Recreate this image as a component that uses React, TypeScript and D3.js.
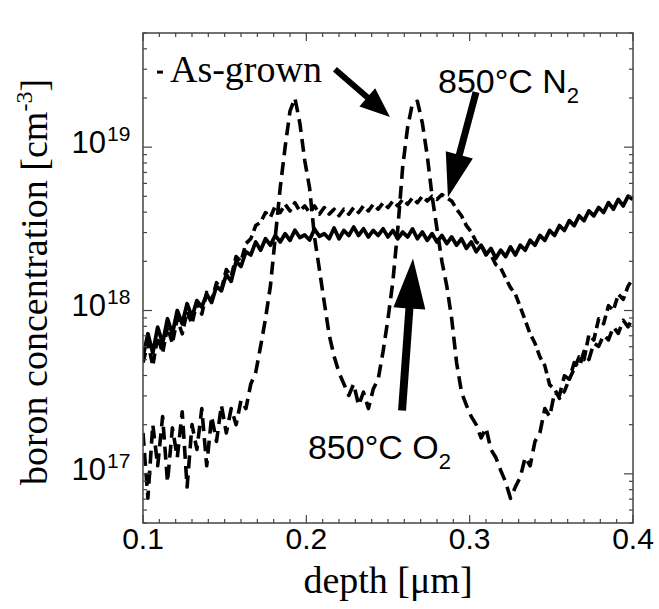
import React from "react";
import * as d3 from "d3";

// depth [µm]
const depth = [
  0.100, 0.103, 0.106, 0.109, 0.112, 0.115, 0.118, 0.121, 0.124, 0.127,
  0.130, 0.133, 0.136, 0.139, 0.142, 0.145, 0.148, 0.151, 0.154, 0.157,
  0.160, 0.163, 0.166, 0.169, 0.172, 0.175, 0.178, 0.181, 0.184, 0.187,
  0.190, 0.193, 0.196, 0.199, 0.202, 0.205, 0.208, 0.211, 0.214, 0.217,
  0.220, 0.223, 0.226, 0.229, 0.232, 0.235, 0.238, 0.241, 0.244, 0.247,
  0.250, 0.253, 0.256, 0.259, 0.262, 0.265, 0.268, 0.271, 0.274, 0.277,
  0.280, 0.283, 0.286, 0.289, 0.292, 0.295, 0.298, 0.301, 0.304, 0.307,
  0.310, 0.313, 0.316, 0.319, 0.322, 0.325, 0.328, 0.331, 0.334, 0.337,
  0.340, 0.343, 0.346, 0.349, 0.352, 0.355, 0.358, 0.361, 0.364, 0.367,
  0.370, 0.373, 0.376, 0.379, 0.382, 0.385, 0.388, 0.391, 0.394, 0.397,
  0.400,
];

// boron concentration [cm^-3]
const asGrown = [
  1.78e17, 7.1e16, 2.0e17, 1.12e17, 2.24e17, 8.9e16, 1.91e17, 1.26e17, 2.4e17, 8.3e16,
  2.0e17, 1.41e17, 2.51e17, 1.12e17, 2.24e17, 1.58e17, 2.63e17, 1.78e17, 2.51e17, 2.0e17,
  2.82e17, 2.51e17, 3.55e17, 4.17e17, 6.03e17, 8.91e17, 1.41e18, 2.82e18, 5.62e18, 1.0e19,
  1.66e19, 2.0e19, 1.41e19, 8.32e18, 5.62e18, 2.82e18, 1.78e18, 1.12e18, 7.08e17, 5.25e17,
  4.17e17, 3.55e17, 3.02e17, 3.55e17, 2.63e17, 3.16e17, 2.51e17, 3.31e17, 3.8e17, 5.62e17,
  8.91e17, 1.51e18, 3.16e18, 7.59e18, 1.32e19, 1.86e19, 1.91e19, 1.41e19, 8.91e18, 5.01e18,
  3.16e18, 2.0e18, 1.41e18, 8.91e17, 4.79e17, 3.16e17, 2.63e17, 2.24e17, 2.0e17, 1.66e17,
  1.91e17, 1.41e17, 1.26e17, 1.05e17, 8.91e16, 7.08e16, 8.32e16, 9.55e16, 1.26e17, 1.12e17,
  1.58e17, 1.78e17, 2.51e17, 2.24e17, 3.16e17, 3.02e17, 3.98e17, 3.8e17, 4.79e17, 4.47e17,
  5.62e17, 5.01e17, 6.31e17, 6.03e17, 7.08e17, 6.61e17, 7.94e17, 7.24e17, 8.71e17, 7.94e17,
  9.12e17,
];

const annealN2 = [
  4.8e17, 6.3e17, 4.6e17, 6.9e17, 5.5e17, 7.9e17, 6.3e17, 8.9e17, 7.2e17, 9.8e17,
  8.3e17, 1.12e18, 9.5e17, 1.29e18, 1.15e18, 1.48e18, 1.35e18, 1.78e18, 1.62e18, 2.14e18,
  2.0e18, 2.57e18, 2.75e18, 3.31e18, 3.47e18, 3.98e18, 3.72e18, 4.37e18, 3.98e18, 4.47e18,
  4.07e18, 4.57e18, 4.07e18, 4.37e18, 3.98e18, 4.37e18, 3.89e18, 4.27e18, 3.89e18, 4.17e18,
  3.8e18, 4.17e18, 3.89e18, 4.27e18, 3.98e18, 4.37e18, 4.07e18, 4.47e18, 4.17e18, 4.57e18,
  4.27e18, 4.68e18, 4.37e18, 4.79e18, 4.47e18, 4.9e18, 4.57e18, 5.01e18, 4.68e18, 5.01e18,
  4.79e18, 5.13e18, 4.9e18, 4.68e18, 4.17e18, 3.8e18, 3.31e18, 3.02e18, 2.63e18, 2.51e18,
  2.24e18, 2.19e18, 1.91e18, 1.82e18, 1.58e18, 1.38e18, 1.26e18, 1.05e18, 8.7e17, 7.2e17,
  6.3e17, 5.2e17, 4.6e17, 3.5e17, 3.3e17, 2.9e17, 3.2e17, 3.8e17, 4.4e17, 5.2e17,
  5.0e17, 7.1e17, 6.6e17, 8.9e17, 8.3e17, 1.07e18, 1.0e18, 1.26e18, 1.17e18, 1.41e18,
  1.58e18,
];

const annealO2 = [
  5.2e17, 7.2e17, 5.5e17, 7.9e17, 6.3e17, 8.9e17, 7.2e17, 1.0e18, 8.3e17, 1.1e18,
  9.1e17, 1.15e18, 1.05e18, 1.26e18, 1.12e18, 1.41e18, 1.32e18, 1.66e18, 1.51e18, 2.0e18,
  1.86e18, 2.29e18, 2.19e18, 2.63e18, 2.34e18, 2.75e18, 2.51e18, 2.88e18, 2.63e18, 2.95e18,
  2.69e18, 3.1e18, 2.8e18, 2.9e18, 2.7e18, 3.15e18, 2.85e18, 2.95e18, 2.75e18, 3.2e18,
  2.75e18, 3.09e18, 2.88e18, 3.24e18, 2.88e18, 3.16e18, 2.82e18, 3.09e18, 2.88e18, 3.16e18,
  2.82e18, 3.09e18, 2.75e18, 3.02e18, 2.82e18, 3.16e18, 2.75e18, 3.02e18, 2.69e18, 2.95e18,
  2.63e18, 2.88e18, 2.57e18, 2.82e18, 2.51e18, 2.75e18, 2.4e18, 2.63e18, 2.29e18, 2.51e18,
  2.19e18, 2.4e18, 2.09e18, 2.34e18, 2.14e18, 2.45e18, 2.19e18, 2.51e18, 2.34e18, 2.69e18,
  2.51e18, 2.88e18, 2.69e18, 3.09e18, 2.88e18, 3.31e18, 3.09e18, 3.55e18, 3.31e18, 3.8e18,
  3.55e18, 4.07e18, 3.8e18, 4.27e18, 3.98e18, 4.57e18, 4.17e18, 4.79e18, 4.37e18, 5.01e18,
  4.79e18,
];

const xTickValues = [0.1, 0.2, 0.3, 0.4];
const xTickLabels = ["0.1", "0.2", "0.3", "0.4"];
const yTickValues = [1e17, 1e18, 1e19];
const yTickExponents = ["17", "18", "19"];

// annotation anchors in data units: [depth, concentration]
const asGrownLabelPos = [0.1165, 2.5e19];
const n2LabelPos = [0.2806, 2.14e19];
const o2LabelPos = [0.201, 1.24e17];
const asGrownArrow = { from: [0.2175, 3.0e19], to: [0.2512, 1.53e19] };
const n2Arrow = { from: [0.3039, 2.17e19], to: [0.2867, 4.93e18] };
const o2Arrow = { from: [0.2586, 2.44e17], to: [0.2653, 2.08e18] };

function arrowPoints(
  p0: [number, number],
  p1: [number, number],
  shaft: number,
  headLen: number,
  headHalf: number
) {
  const dx = p1[0] - p0[0];
  const dy = p1[1] - p0[1];
  const len = Math.hypot(dx, dy);
  const ux = dx / len, uy = dy / len;
  const px = -uy, py = ux;
  const bx = p1[0] - ux * headLen, by = p1[1] - uy * headLen;
  const pts = [
    [p0[0] + px * shaft / 2, p0[1] + py * shaft / 2],
    [bx + px * shaft / 2, by + py * shaft / 2],
    [bx + px * headHalf, by + py * headHalf],
    [p1[0], p1[1]],
    [bx - px * headHalf, by - py * headHalf],
    [bx - px * shaft / 2, by - py * shaft / 2],
    [p0[0] - px * shaft / 2, p0[1] - py * shaft / 2],
  ];
  return pts.map((p) => p.join(",")).join(" ");
}

export default function App() {
  const W = 659, H = 609;
  const left = 143, right = 633, top = 33, bottom = 523;
  const x = d3.scaleLinear().domain([0.1, 0.4]).range([left, right]);
  const y = d3.scaleLog().domain([5e16, 5e19]).range([bottom, top]);

  const line = d3
    .line<number>()
    .x((_, i) => x(depth[i]))
    .y((d) => y(d));

  const xMinor = x.ticks(30);
  const yMinor = y.ticks();
  const sans = "'Liberation Sans', Arial, Helvetica, sans-serif";
  const serif = "'Liberation Serif', 'Times New Roman', serif";

  const P = (d: number[]): [number, number] => [x(d[0]), y(d[1])];

  return (
    <svg
      width={W}
      height={H}
      style={{ position: "absolute", left: 0, top: 0, background: "#fff" }}
    >
      <defs>
        <clipPath id="plotClip">
          <rect x={left} y={top} width={right - left} height={bottom - top} />
        </clipPath>
      </defs>
      <rect x={0} y={0} width={W} height={H} fill="#fff" />

      {/* curves */}
      <g clipPath="url(#plotClip)" fill="none" stroke="#000" strokeLinejoin="round">
        <path d={line(annealO2) || ""} strokeWidth={3.8} />
        <path d={line(annealN2) || ""} strokeWidth={3.6} strokeDasharray="10,5" />
        <path d={line(asGrown) || ""} strokeWidth={3.6} strokeDasharray="13,7" />
      </g>

      {/* frame */}
      <rect
        x={left}
        y={top}
        width={right - left}
        height={bottom - top}
        fill="none"
        stroke="#444"
        strokeWidth={1.5}
      />

      {/* ticks */}
      <g stroke="#444" strokeWidth={1.2}>
        {xMinor.map((t, i) => {
          const major = xTickValues.some((v) => Math.abs(v - t) < 1e-9);
          const len = major ? 8 : 4;
          return (
            <g key={"xt" + i}>
              <line x1={x(t)} x2={x(t)} y1={bottom} y2={bottom - len} />
              <line x1={x(t)} x2={x(t)} y1={top} y2={top + len} />
            </g>
          );
        })}
        {yMinor.map((t, i) => {
          const major = yTickValues.some((v) => Math.abs(v - t) / v < 1e-6);
          const len = major ? 9 : 4;
          return (
            <g key={"yt" + i}>
              <line x1={left} x2={left + len} y1={y(t)} y2={y(t)} />
              <line x1={right} x2={right - len} y1={y(t)} y2={y(t)} />
            </g>
          );
        })}
      </g>

      {/* x tick labels */}
      {xTickValues.map((v, i) => (
        <text
          key={"xl" + i}
          x={x(v)}
          y={bottom + 26}
          textAnchor="middle"
          fontFamily={sans}
          fontSize={30}
          fill="#000"
        >
          {xTickLabels[i]}
        </text>
      ))}

      {/* y tick labels */}
      {yTickValues.map((v, i) => (
        <g key={"yl" + i}>
          <text
            x={left - 37}
            y={y(v) + 6}
            textAnchor="end"
            fontFamily={sans}
            fontSize={31}
            fill="#000"
          >
            10
          </text>
          <text
            x={left - 36}
            y={y(v) - 6}
            textAnchor="start"
            fontFamily={sans}
            fontSize={21}
            fill="#000"
          >
            {yTickExponents[i]}
          </text>
        </g>
      ))}

      {/* axis titles */}
      <text
        x={(left + right) / 2}
        y={593}
        textAnchor="middle"
        fontFamily={serif}
        fontSize={38}
        fill="#000"
      >
        depth [μm]
      </text>
      <text
        transform={`translate(47,${(top + bottom) / 2 + 4}) rotate(-90)`}
        textAnchor="middle"
        fontFamily={serif}
        fontSize={38}
        fill="#000"
      >
        boron concentration [cm
        <tspan fontSize={24} dy={-15}>-3</tspan>
        <tspan dy={15}>]</tspan>
      </text>

      {/* annotations */}
      <line
        x1={x(0.1086)}
        x2={x(0.1122)}
        y1={y(2.88e19)}
        y2={y(2.88e19)}
        stroke="#000"
        strokeWidth={3}
      />
      <text
        x={P(asGrownLabelPos)[0]}
        y={P(asGrownLabelPos)[1]}
        fontFamily={serif}
        fontSize={38}
        fill="#000"
      >
        As-grown
      </text>
      <text
        x={P(n2LabelPos)[0]}
        y={P(n2LabelPos)[1]}
        fontFamily={sans}
        fontSize={34}
        fill="#000"
      >
        850°C N<tspan fontSize={22} dy={10}>2</tspan>
      </text>
      <text
        x={P(o2LabelPos)[0]}
        y={P(o2LabelPos)[1]}
        fontFamily={sans}
        fontSize={34}
        fill="#000"
      >
        850°C O<tspan fontSize={22} dy={10}>2</tspan>
      </text>

      <polygon
        points={arrowPoints(P(asGrownArrow.from), P(asGrownArrow.to), 6, 30, 12)}
        fill="#000"
      />
      <polygon
        points={arrowPoints(P(n2Arrow.from), P(n2Arrow.to), 7, 44, 14)}
        fill="#000"
      />
      <polygon
        points={arrowPoints(P(o2Arrow.from), P(o2Arrow.to), 8, 50, 16)}
        fill="#000"
      />
    </svg>
  );
}
